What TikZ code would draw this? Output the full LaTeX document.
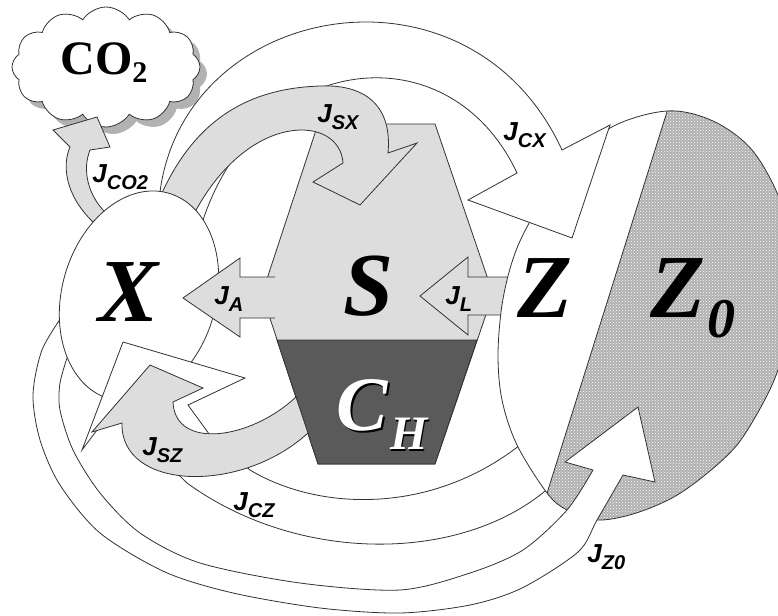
\documentclass[tikz,border=0pt]{standalone}
\usepackage{fontspec}
\setmainfont{Liberation Serif}
\newfontfamily\labfont{Liberation Sans}
\usetikzlibrary{shapes.symbols,shadows,patterns}
\definecolor{lightg}{RGB}{221,221,221}
\definecolor{darkg}{RGB}{90,90,90}
\definecolor{zeroz}{RGB}{176,176,176}
\definecolor{edge}{RGB}{50,50,50}
\newcommand{\Jlab}[1]{{\labfont\bfseries\itshape\fontsize{26}{26}\selectfont J\raisebox{-7pt}{\fontsize{20}{20}\selectfont #1}}}
\newcommand{\shadowletter}[2]{\makebox[0pt][l]{\hspace{#2}\raisebox{-#2}{\color{black}#1}}{\color{white}#1}}
\def\Zshape{plot[smooth cycle, tension=0.55] coordinates {(667,111) (713,121) (752,150) (780,200) (795,260) (792,320) (778,370) (762,405) (737,445) (705,475) (672,498) (633,514) (597,520) (567,510) (547,493) (517,445) (502,400) (498,355) (502,305) (512,262) (527,227) (560,172) (610,128)}}
\def\JCZpath{(123,342) -- (245,378) -- (188,405) -- (212,438) -- (250,470) .. controls (320,512) and (435,515) .. (525,441) -- (551,486) .. controls (465,563) and (300,565) .. (187,483) -- (112,410) -- (82,450) -- cycle}
\begin{document}
\begin{tikzpicture}[x=1pt,y=-1pt, line width=0.8pt, line join=miter,
  band/.style={draw=edge, line width=0.8pt},
  grayband/.style={band, fill=lightg},
  whiteband/.style={band, fill=white},
  bigletter/.style={font=\fontsize{90}{90}\selectfont\bfseries\itshape, inner sep=0pt},
  lab/.style={anchor=base west, inner sep=0pt}]
\useasboundingbox (0,0) rectangle (778,615);
\clip (0,0) rectangle (778,615);
% cloud
\node[cloud, cloud puffs=12, cloud puff arc=115, cloud ignores aspect,
  minimum width=188pt, minimum height=120pt, inner sep=0pt, draw=edge, fill=white,
  drop shadow={shadow xshift=7pt, shadow yshift=-7pt, fill=black!30, opacity=1}] (cloud) at (106,67) {};
\node[anchor=base west, inner sep=0pt, font=\fontsize{48}{48}\selectfont\bfseries] (co2) at (60,75) {CO\raisebox{-8pt}{\fontsize{30}{30}\selectfont 2}};
% S and C_H
\filldraw[fill=lightg, draw=edge] (318,124) -- (435,124) -- (493,294) -- (435,464) -- (318,464) -- (262,294) -- cycle;
\filldraw[fill=darkg, draw=edge] (277,340) -- (477,340) -- (435,464) -- (318,464) -- cycle;
% J_L
\filldraw[grayband] (530,315) -- (468,315) -- (468,335) -- (420,296) -- (468,257) -- (468,277) -- (530,277);
% J_CZ (first pass, under Z)
\filldraw[whiteband] \JCZpath;
% Z and Z0
\fill[white] \Zshape;
\begin{scope}
  \clip \Zshape;
  \fill[zeroz] (677,80) -- (526,560) -- (820,560) -- (820,80) -- cycle;
  \fill[pattern=crosshatch dots, pattern color=white] (677,80) -- (526,560) -- (820,560) -- (820,80) -- cycle;
  \draw[edge] (677,80) -- (526,560);
\end{scope}
\draw[edge] \Zshape;
% J_CX
\filldraw[whiteband] (150,215) -- (160,192) .. controls (185,0) and (470,-50) .. (562,150) -- (610,125) -- (572,238) -- (468,200) -- (517,173) .. controls (450,30) and (260,50) .. (203,220) -- (185,232) -- cycle;
% J_SX
\filldraw[grayband] (168,215) -- (162,193) .. controls (200,110) and (260,88) .. (320,86) .. controls (370,84) and (392,110) .. (388,153) -- (417,143) -- (360,205) -- (313,182) -- (343,163) .. controls (340,115) and (250,110) .. (195,212) -- (185,228) -- cycle;
% J_CO2
\filldraw[grayband] (102,232) -- (93,222) .. controls (65,195) and (62,165) .. (70,147) -- (53,130) -- (97,117) -- (110,147) -- (90,150) .. controls (82,170) and (88,195) .. (105,212) -- (110,228) -- cycle;
% J_Z0
\filldraw[whiteband] plot[smooth] coordinates {(63,315) (42,350) (33,395) (40,440) (60,485) (100,533) (165,572) (233,593) (320,608) (400,613) (470,605) (522,588) (578,552) (597,520) (623,475)} -- (655,482) -- (638,407) -- (565,462) -- (593,470) -- plot[smooth] coordinates {(593,470) (567,510) (523,550) (470,573) (400,590) (300,583) (200,563) (140,533) (100,493) (73,450) (60,410) (60,383) (68,355)} -- cycle;
% X
\filldraw[fill=white, draw=edge, rotate around={-16:(139,296)}] (139,296) ellipse [x radius=77, y radius=107];
% J_CZ (second pass, over X)
\begin{scope}
  \clip[rotate around={-16:(139,296)}] (139,296) ellipse [x radius=79, y radius=109];
  \filldraw[whiteband] \JCZpath;
\end{scope}
% J_SZ
\filldraw[grayband] (296,397) .. controls (250,440) and (175,450) .. (173,402) -- (203,388) -- (150,365) -- (92,432) -- (122,423) .. controls (120,490) and (240,495) .. (308,433) -- cycle;
% J_A
\filldraw[grayband] (275,277) -- (240,277) -- (240,258) -- (183,298) -- (240,337) -- (240,318) -- (275,318);
% big letters
\node[bigletter] (X) at (129,292) {X};
\node[bigletter] (S) at (369,286) {S};
\node[bigletter] (Z) at (545,288) {Z};
\node[bigletter] (Z0) at (678,288) {Z};
\node[font=\fontsize{56}{56}\selectfont\bfseries\itshape, inner sep=0pt] (zero) at (721,319) {0};
\node[font=\fontsize{77}{77}\selectfont\bfseries\itshape, inner sep=0pt] (C) at (362,406) {\shadowletter{C}{2pt}};
\node[font=\fontsize{48}{48}\selectfont\bfseries\itshape, inner sep=0pt] (H) at (409,435) {\shadowletter{H}{1.5pt}};
% flux labels
\node[lab] (jco2) at (92,182) {\Jlab{CO2}};
\node[lab] (jsx) at (317,122) {\Jlab{SX}};
\node[lab] (jcx) at (503,140) {\Jlab{CX}};
\node[lab] (ja) at (214,304) {\Jlab{A}};
\node[lab] (jl) at (445,304) {\Jlab{L}};
\node[lab] (jsz) at (142,455) {\Jlab{SZ}};
\node[lab] (jcz) at (233,510) {\Jlab{CZ}};
\node[lab] (jz0) at (587,562) {\Jlab{Z0}};
\end{tikzpicture}
\end{document}
